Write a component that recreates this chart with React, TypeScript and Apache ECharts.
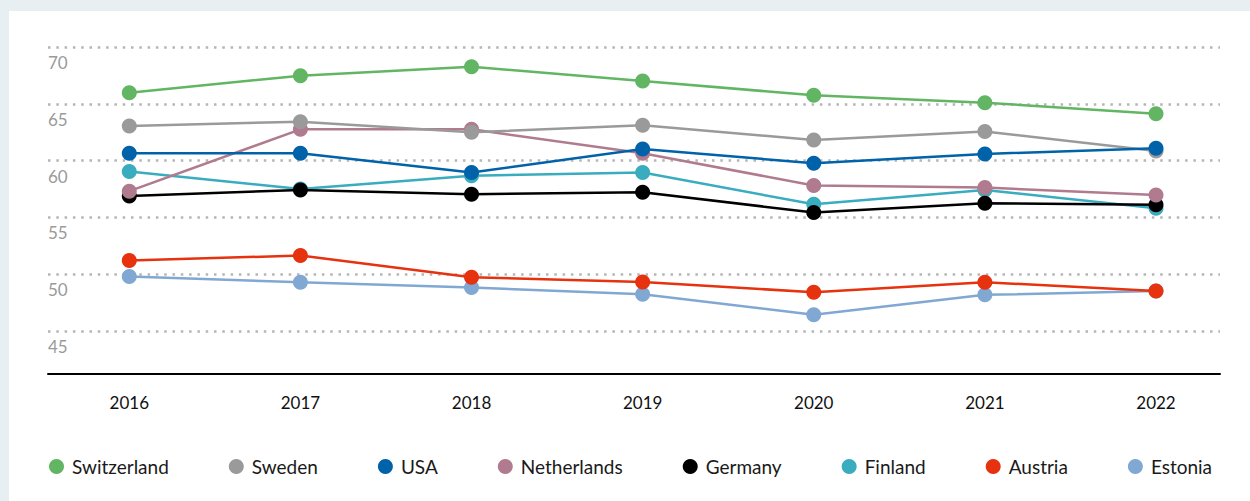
import React, { useEffect, useRef } from "react";
import * as echarts from "echarts";

const years = [2016, 2017, 2018, 2019, 2020, 2021, 2022];
const yTicks = [45, 50, 55, 60, 65, 70];

const switzerland = [65.98, 67.47, 68.27, 67.0, 65.75, 65.1, 64.13];
const sweden = [63.05, 63.42, 62.49, 63.1, 61.81, 62.55, 60.85];
const usa = [60.64, 60.64, 58.94, 61.02, 59.76, 60.58, 61.08];
const netherlands = [57.3, 62.75, 62.75, 60.64, 57.8, 57.62, 56.97];
const germany = [56.88, 57.41, 57.03, 57.21, 55.42, 56.24, 56.1];
const finland = [59.03, 57.5, 58.67, 58.94, 56.15, 57.41, 55.8];
const austria = [51.19, 51.63, 49.73, 49.31, 48.4, 49.28, 48.52];
const estonia = [49.78, 49.28, 48.81, 48.23, 46.41, 48.17, 48.5];

const seriesDefs = [
  { name: "Switzerland", data: switzerland, color: "#62b562", z: 20 },
  { name: "Sweden", data: sweden, color: "#9a9a9a", z: 18 },
  { name: "USA", data: usa, color: "#0062a8", z: 19 },
  { name: "Netherlands", data: netherlands, color: "#b07b8f", z: 17 },
  { name: "Germany", data: germany, color: "#000000", z: 16 },
  { name: "Finland", data: finland, color: "#3aacbf", z: 15 },
  { name: "Austria", data: austria, color: "#e6320f", z: 14 },
  { name: "Estonia", data: estonia, color: "#80a8d2", z: 13 },
];

const FONT = "Lato, 'Noto Sans', sans-serif";

export default function App() {
  const ref = useRef<HTMLDivElement>(null);

  useEffect(() => {
    document.body.style.margin = "0";
    if (!ref.current) return;
    const chart = echarts.init(ref.current, undefined, { renderer: "svg" });
    const option: any = {
      animation: false,
      textStyle: { fontFamily: FONT },
      grid: { left: 39, right: 30, top: 36, bottom: 127, containLabel: false },
      legend: {
        data: seriesDefs.map((s) => s.name),
        icon: "circle",
        itemWidth: 15,
        itemHeight: 15,
        itemGap: 60,
        left: 35,
        top: 441,
        selectedMode: false,
        textStyle: { fontSize: 19, color: "#1a1a1a", fontFamily: FONT, padding: [0, 0, 0, 3] },
      },
      xAxis: {
        type: "value",
        min: 2015.525,
        max: 2022.374,
        splitLine: { show: false },
        axisTick: { show: false },
        axisLine: { show: true, lineStyle: { color: "#000", width: 2 } },
        axisLabel: {
          customValues: years,
          formatter: (v: number) => String(v),
          color: "#111",
          fontSize: 17,
          margin: 20,
          fontFamily: FONT,
        },
      },
      yAxis: {
        type: "value",
        min: 41.2,
        max: 70,
        splitLine: { show: false },
        axisTick: { show: false },
        axisLine: { show: false },
        axisLabel: {
          customValues: yTicks,
          inside: true,
          margin: 0,
          verticalAlign: "top",
          padding: [7, 0, 0, 0],
          color: "#9a9a9a",
          fontSize: 17,
          fontFamily: FONT,
        },
      },
      series: [
        {
          type: "line",
          name: "__grid",
          data: [],
          silent: true,
          z: 1,
          markLine: {
            silent: true,
            symbol: ["none", "none"],
            label: { show: false },
            lineStyle: { color: "#b5b5b5", width: 2.5, type: [2.5, 5.8] },
            data: yTicks.map((t) => ({ yAxis: t })),
          },
        },
        ...seriesDefs.map((s) => ({
          type: "line",
          name: s.name,
          data: years.map((y, i) => [y, s.data[i]]),
          z: s.z,
          symbol: "circle",
          symbolSize: 15,
          showSymbol: true,
          itemStyle: { color: s.color },
          lineStyle: { color: s.color, width: 2.5 },
          emphasis: { disabled: true },
        })),
      ],
    };
    chart.setOption(option);
    return () => chart.dispose();
  }, []);

  return (
    <div style={{ position: "relative", width: 1250, height: 501, background: "#e8eff2", overflow: "hidden" }}>
      <div
        ref={ref}
        style={{ position: "absolute", left: 9, top: 11, width: 1241, height: 490, background: "#ffffff" }}
      />
    </div>
  );
}
